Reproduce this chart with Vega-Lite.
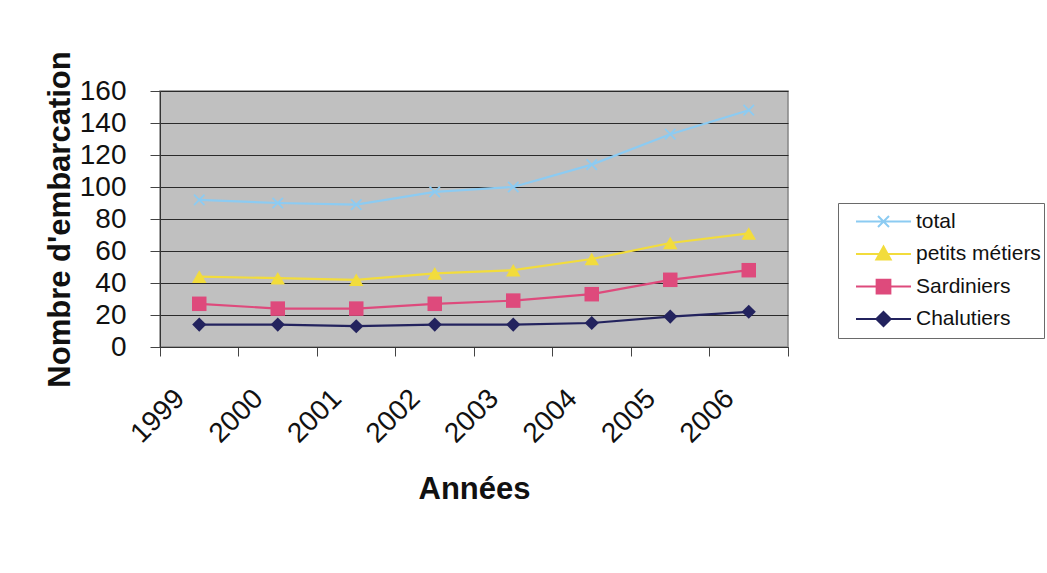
{
  "$schema": "https://vega.github.io/schema/vega-lite/v6.json",
  "width": 628,
  "height": 256,
  "autosize": {"type": "none"},
  "padding": {"left": 160, "top": 91, "right": 259, "bottom": 226},
  "background": "white",
  "config": {
    "font": "Liberation Sans",
    "view": {"fill": "#c0c0c0", "stroke": "#858585", "strokeWidth": 1.5},
    "axis": {
      "labelFont": "Liberation Sans",
      "labelFontSize": 28,
      "labelColor": "#111111",
      "titleFont": "Liberation Sans",
      "titleFontSize": 31,
      "titleFontWeight": "bold",
      "titleColor": "#111111",
      "domainColor": "#333333",
      "tickColor": "#444444",
      "tickSize": 9
    },
    "legend": {
      "labelFont": "Liberation Sans",
      "labelFontSize": 21,
      "labelColor": "#111111",
      "orient": "none",
      "legendX": 678,
      "legendY": 112,
      "padding": 3,
      "symbolOffset": 14,
      "labelOffset": 4,
      "symbolSize": 3025,
      "symbolStrokeWidth": 2,
      "symbolOpacity": 1,
      "clipHeight": 31,
      "rowPadding": 1.5,
      "fillColor": "white",
      "strokeColor": "#6a6a6a"
    }
  },
  "data": {
    "values": [
      {"annee": "1999", "serie": "total", "n": 92},
      {"annee": "2000", "serie": "total", "n": 90},
      {"annee": "2001", "serie": "total", "n": 89},
      {"annee": "2002", "serie": "total", "n": 97},
      {"annee": "2003", "serie": "total", "n": 100},
      {"annee": "2004", "serie": "total", "n": 114},
      {"annee": "2005", "serie": "total", "n": 133},
      {"annee": "2006", "serie": "total", "n": 148},
      {"annee": "1999", "serie": "petits métiers", "n": 44},
      {"annee": "2000", "serie": "petits métiers", "n": 43},
      {"annee": "2001", "serie": "petits métiers", "n": 42},
      {"annee": "2002", "serie": "petits métiers", "n": 46},
      {"annee": "2003", "serie": "petits métiers", "n": 48},
      {"annee": "2004", "serie": "petits métiers", "n": 55},
      {"annee": "2005", "serie": "petits métiers", "n": 65},
      {"annee": "2006", "serie": "petits métiers", "n": 71},
      {"annee": "1999", "serie": "Sardiniers", "n": 27},
      {"annee": "2000", "serie": "Sardiniers", "n": 24},
      {"annee": "2001", "serie": "Sardiniers", "n": 24},
      {"annee": "2002", "serie": "Sardiniers", "n": 27},
      {"annee": "2003", "serie": "Sardiniers", "n": 29},
      {"annee": "2004", "serie": "Sardiniers", "n": 33},
      {"annee": "2005", "serie": "Sardiniers", "n": 42},
      {"annee": "2006", "serie": "Sardiniers", "n": 48},
      {"annee": "1999", "serie": "Chalutiers", "n": 14},
      {"annee": "2000", "serie": "Chalutiers", "n": 14},
      {"annee": "2001", "serie": "Chalutiers", "n": 13},
      {"annee": "2002", "serie": "Chalutiers", "n": 14},
      {"annee": "2003", "serie": "Chalutiers", "n": 14},
      {"annee": "2004", "serie": "Chalutiers", "n": 15},
      {"annee": "2005", "serie": "Chalutiers", "n": 19},
      {"annee": "2006", "serie": "Chalutiers", "n": 22}
    ]
  },
  "encoding": {
    "x": {
      "field": "annee",
      "type": "ordinal",
      "scale": {"type": "band", "paddingInner": 0, "paddingOuter": 0},
      "axis": {
        "title": "Années",
        "labelAngle": -45,
        "labelAlign": "right",
        "labelBaseline": "middle",
        "labelPadding": 38,
        "bandPosition": 1,
        "tickExtra": true,
        "labelOffset": -19,
        "titleX": 314,
        "titleY": 151,
        "titleAlign": "center",
        "titleBaseline": "alphabetic",
        "grid": false
      }
    },
    "y": {
      "field": "n",
      "type": "quantitative",
      "scale": {"domain": [0, 160], "nice": false},
      "axis": {
        "title": "Nombre d'embarcation",
        "values": [0, 20, 40, 60, 80, 100, 120, 140, 160],
        "tickSize": 10,
        "labelPadding": 24,
        "grid": true,
        "gridColor": "#2a2a2a",
        "gridWidth": 1.2,
        "gridOpacity": 1,
        "titleX": -91,
        "titleY": 128,
        "titleAngle": -90,
        "titleAlign": "center",
        "titleBaseline": "alphabetic"
      }
    },
    "color": {
      "field": "serie",
      "type": "nominal",
      "legend": {"title": null},
      "scale": {
        "domain": ["total", "petits métiers", "Sardiniers", "Chalutiers"],
        "range": ["#8ccbf2", "#f2dc3c", "#de4a7c", "#23235e"]
      }
    }
  },
  "layer": [
    {
      "mark": {"type": "line", "strokeWidth": 2.2},
      "encoding": {"detail": {"field": "serie"}}
    },
    {
      "transform": [{"filter": "datum.serie === 'total'"}],
      "mark": {"type": "point", "shape": "M-0.8,-0.8L0.8,0.8M0.8,-0.8L-0.8,0.8", "filled": false, "opacity": 1, "strokeWidth": 1.8, "size": 170}
    },
    {
      "transform": [{"filter": "datum.serie === 'petits métiers'"}],
      "mark": {"type": "point", "shape": "triangle-up", "filled": true, "opacity": 1, "size": 210}
    },
    {
      "transform": [{"filter": "datum.serie === 'Sardiniers'"}],
      "mark": {"type": "point", "shape": "square", "filled": true, "opacity": 1, "size": 210}
    },
    {
      "transform": [{"filter": "datum.serie === 'Chalutiers'"}],
      "mark": {"type": "point", "shape": "diamond", "filled": true, "opacity": 1, "size": 200}
    },
    {
      "transform": [{"filter": "datum.n < 0"}],
      "mark": {"type": "point", "filled": true, "opacity": 1},
      "encoding": {
        "stroke": {
          "field": "serie",
          "type": "nominal",
          "legend": {"title": null},
          "scale": {
            "domain": ["total", "petits métiers", "Sardiniers", "Chalutiers"],
            "range": ["#8ccbf2", "#f2dc3c", "#de4a7c", "#23235e"]
          }
        },
        "shape": {
          "field": "serie",
          "type": "nominal",
          "legend": {"title": null},
          "scale": {
            "domain": ["total", "petits métiers", "Sardiniers", "Chalutiers"],
            "range": [
              "M-1,0H1M-0.2,-0.2L0.2,0.2M0.2,-0.2L-0.2,0.2",
              "M-1,0H1M0,-0.27L0.26,0.2L-0.26,0.2Z",
              "M-1,0H1M-0.25,-0.25H0.25V0.25H-0.25Z",
              "M-1,0H1M0,-0.26L0.26,0L0,0.26L-0.26,0Z"
            ]
          }
        }
      }
    }
  ]
}
